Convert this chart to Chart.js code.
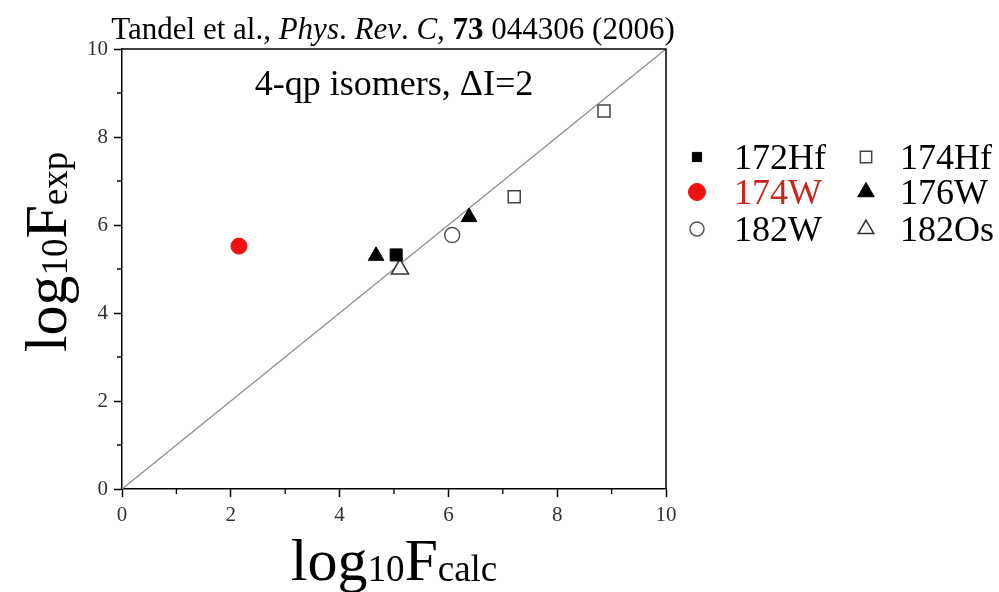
<!DOCTYPE html>
<html>
<head>
<meta charset="utf-8">
<script src="https://cdn.jsdelivr.net/npm/chart.js@4.4.1/dist/chart.umd.min.js"></script>
<style>
  html, body { margin: 0; padding: 0; background: #ffffff; }
  #wrap { width: 999px; height: 592px; }
</style>
</head>
<body>
<div id="wrap"><canvas id="myChart" width="999" height="592"></canvas></div>
<script>
const chart = document.getElementById('myChart')

// log10 F values (calc, exp) per nucleus
const hf172Calc = [5.04]
const hf172Exp = [5.32]
const hf174Calc = [8.86, 7.21]
const hf174Exp = [8.59, 6.64]
const w174Calc = [2.15]
const w174Exp = [5.52]
const w176Calc = [4.67, 6.38]
const w176Exp = [5.30, 6.18]
const w182Calc = [6.07]
const w182Exp = [5.77]
const os182Calc = [5.11]
const os182Exp = [5.00]

// y = x reference line
const diagonalX = [0, 10]
const diagonalY = [0, 10]

const axisMin = 0
const axisMax = 10
const majorStep = 2
const minorTicks = [1, 3, 5, 7, 9]

const serif = '"Liberation Serif", "DejaVu Serif", serif'
const red = '#f01212'

function toPoints(xs, ys) {
    let pts = []
    for (let i = 0; i < xs.length; i++) {
        pts.push({ x: xs[i], y: ys[i] })
    }
    return pts
}

// marker settings; the legend reuses them
const series = [
    { label: '172Hf', x: hf172Calc, y: hf172Exp, style: 'rect', radius: 8.5, fill: '#000', stroke: '#000', width: 1, legendRadius: 6.5, text: '#000', col: 0, row: 0 },
    { label: '174Hf', x: hf174Calc, y: hf174Exp, style: 'rect', radius: 8.5, fill: '#fff', stroke: '#444', width: 1.5, legendRadius: 8, text: '#000', col: 1, row: 0 },
    { label: '174W', x: w174Calc, y: w174Exp, style: 'circle', radius: 8, fill: red, stroke: red, width: 1, legendRadius: 8.5, text: '#c4281c', col: 0, row: 1 },
    { label: '176W', x: w176Calc, y: w176Exp, style: 'triangle', radius: 9, fill: '#000', stroke: '#000', width: 1, legendRadius: 9.5, text: '#000', col: 1, row: 1 },
    { label: '182W', x: w182Calc, y: w182Exp, style: 'circle', radius: 7.5, fill: '#fff', stroke: '#555', width: 1.5, legendRadius: 7, text: '#000', col: 0, row: 2 },
    { label: '182Os', x: os182Calc, y: os182Exp, style: 'triangle', radius: 10, fill: '#fff', stroke: '#333', width: 1.5, legendRadius: 9, text: '#000', col: 1, row: 2 }
]

let datasets = [{
    type: 'line',
    label: 'diagonal',
    data: toPoints(diagonalX, diagonalY),
    borderColor: '#8a8a8a',
    borderWidth: 1.3,
    pointRadius: 0,
    fill: false,
    order: 10
}]
series.forEach(s => {
    datasets.push({
        type: 'scatter',
        label: s.label,
        data: toPoints(s.x, s.y),
        pointStyle: s.style,
        pointRadius: s.radius,
        pointHoverRadius: s.radius,
        backgroundColor: s.fill,
        borderColor: s.stroke,
        borderWidth: s.width,
        order: 1
    })
})

function drawRuns(ctx, runs, cx, baseline) {
    let total = 0
    runs.forEach(r => { ctx.font = r.font; total += ctx.measureText(r.text).width })
    let x = cx - total / 2
    runs.forEach(r => {
        ctx.font = r.font
        ctx.fillText(r.text, x, baseline + (r.dy || 0))
        x += ctx.measureText(r.text).width
    })
}

const decorations = {
    id: 'decorations',
    afterDraw(c) {
        const ctx = c.ctx
        const area = c.chartArea
        const xs = c.scales.x
        const ys = c.scales.y
        ctx.save()

        // frame on top and right
        ctx.strokeStyle = '#000'
        ctx.lineWidth = 1.5
        ctx.beginPath()
        ctx.moveTo(area.left, area.top)
        ctx.lineTo(area.right, area.top)
        ctx.lineTo(area.right, area.bottom)
        ctx.stroke()

        // minor ticks
        ctx.lineWidth = 1.3
        ctx.beginPath()
        minorTicks.forEach(v => {
            const px = xs.getPixelForValue(v)
            ctx.moveTo(px, area.bottom)
            ctx.lineTo(px, area.bottom + 5)
            const py = ys.getPixelForValue(v)
            ctx.moveTo(area.left, py)
            ctx.lineTo(area.left - 5, py)
        })
        ctx.stroke()

        ctx.fillStyle = '#000'
        ctx.textAlign = 'left'
        ctx.textBaseline = 'alphabetic'

        // citation line
        const f = 31
        drawRuns(ctx, [
            { text: 'Tandel et al., ', font: `${f}px ${serif}` },
            { text: 'Phys', font: `italic ${f}px ${serif}` },
            { text: '. ', font: `${f}px ${serif}` },
            { text: 'Rev', font: `italic ${f}px ${serif}` },
            { text: '. ', font: `${f}px ${serif}` },
            { text: 'C', font: `italic ${f}px ${serif}` },
            { text: ', ', font: `${f}px ${serif}` },
            { text: '73', font: `bold ${f}px ${serif}` },
            { text: ' 044306 (2006)', font: `${f}px ${serif}` }
        ], 393, 39)

        // panel label
        drawRuns(ctx, [{ text: '4-qp isomers, \u0394I=2', font: `36px ${serif}` }], 394, 95)

        // axis titles
        const big = `60px ${serif}`
        const small = `37px ${serif}`
        drawRuns(ctx, [
            { text: 'log', font: big },
            { text: '10', font: small, dy: 1 },
            { text: 'F', font: big },
            { text: 'calc', font: small, dy: 1 }
        ], 394, 580)

        ctx.save()
        ctx.translate(66, 252)
        ctx.rotate(-Math.PI / 2)
        drawRuns(ctx, [
            { text: 'log', font: big },
            { text: '10', font: small, dy: 1 },
            { text: 'F', font: big },
            { text: 'exp', font: small, dy: 1 }
        ], 0, 0)
        ctx.restore()

        // legend, two columns
        const colMarker = [697, 866]
        const colText = [734, 900]
        const rowY = [157, 192, 229]
        const legendFont = `36px ${serif}`
        series.forEach(s => {
            const mx = colMarker[s.col]
            const my = rowY[s.row]
            ctx.fillStyle = s.fill
            ctx.strokeStyle = s.stroke
            ctx.lineWidth = s.width
            Chart.helpers.drawPoint(ctx, { pointStyle: s.style, radius: s.legendRadius, rotation: 0, borderWidth: s.width }, mx, my)
            ctx.fillStyle = s.text
            ctx.font = legendFont
            ctx.fillText(s.label, colText[s.col], my + 12)
        })

        ctx.restore()
    }
}

const axisOptions = {
    type: 'linear',
    min: axisMin,
    max: axisMax,
    grid: {
        drawOnChartArea: false,
        drawTicks: true,
        tickLength: 8,
        tickColor: '#000',
        tickWidth: 1.5
    },
    border: { display: true, color: '#000', width: 1.5 },
    ticks: {
        stepSize: majorStep,
        color: '#333',
        font: { family: serif, size: 21 },
        padding: 6
    }
}

new Chart(chart, {
    data: { datasets: datasets },
    options: {
        responsive: false,
        animation: false,
        events: [],
        layout: {
            padding: { top: 49, left: 82, right: 333, bottom: 67 }
        },
        plugins: {
            legend: { display: false },
            tooltip: { enabled: false }
        },
        scales: {
            x: Object.assign({}, axisOptions, {
                position: 'bottom',
                afterFit: scale => { scale.height = 36 }
            }),
            y: Object.assign({}, axisOptions, {
                position: 'left',
                afterFit: scale => { scale.width = 40 }
            })
        }
    },
    plugins: [decorations]
})
</script>
</body>
</html>
